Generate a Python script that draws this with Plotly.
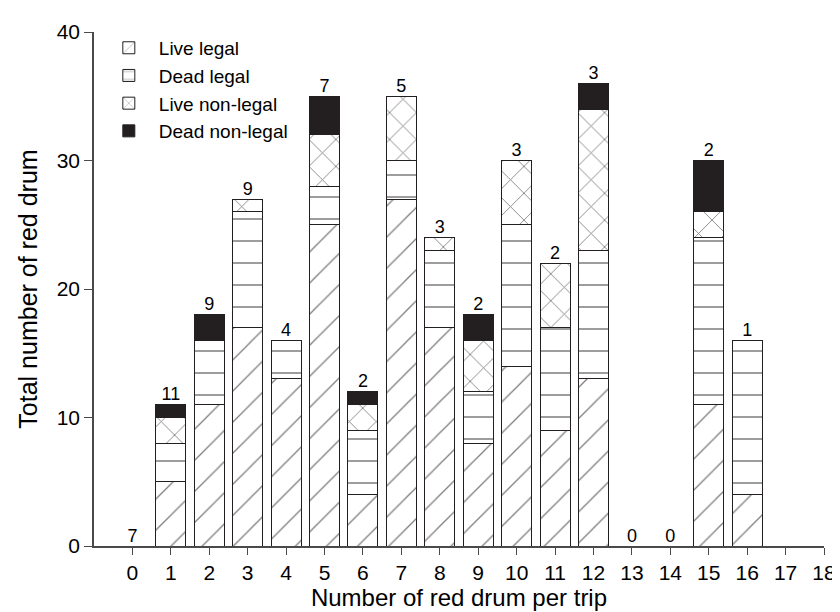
import plotly.graph_objects as go

trips_per_trip = list(range(0, 17))
live_legal     = [0, 5, 11, 17, 13, 25, 4, 27, 17, 8, 14, 9, 13, 0, 0, 11, 4]
dead_legal     = [0, 3, 5, 9, 3, 3, 5, 3, 6, 4, 11, 8, 10, 0, 0, 13, 12]
live_nonlegal  = [0, 2, 0, 1, 0, 4, 2, 5, 1, 4, 5, 5, 11, 0, 0, 2, 0]
dead_nonlegal  = [0, 1, 2, 0, 0, 3, 1, 0, 0, 2, 0, 0, 2, 0, 0, 4, 0]
n_trips        = [7, 11, 9, 9, 4, 7, 2, 5, 3, 2, 3, 2, 3, 0, 0, 2, 1]
x_ticks = list(range(0, 19))

INK = "#231f20"
AXIS = "#4a4a4a"
FONT = "Liberation Sans, Arial, Helvetica, sans-serif"

series = [
    ("Live legal", live_legal, dict(shape="/", size=22, solidity=0.06, fgcolor="#000000", bgcolor="white")),
    ("Dead legal", dead_legal, dict(shape="-", size=22, solidity=0.07, fgcolor="#000000", bgcolor="white")),
    ("Live non-legal", live_nonlegal, dict(shape="x", size=19, solidity=0.09, fgcolor="#000000", bgcolor="white")),
    ("Dead non-legal", dead_nonlegal, None),
]

fig = go.Figure()
for name, vals, pat in series:
    marker = dict(line=dict(color=INK, width=1))
    if pat is None:
        marker["color"] = INK
    else:
        marker["color"] = "white"
        marker["pattern"] = pat
    fig.add_trace(go.Bar(x=trips_per_trip, y=vals, name=name, width=0.78, marker=marker))

totals = [a + b + c + d for a, b, c, d in zip(live_legal, dead_legal, live_nonlegal, dead_nonlegal)]
fig.add_trace(go.Scatter(
    x=trips_per_trip, y=totals, mode="text", text=[str(n) for n in n_trips],
    textposition="top center", textfont=dict(size=18, color="black", family=FONT),
    showlegend=False, hoverinfo="skip", cliponaxis=False,
))

fig.update_layout(
    barmode="stack",
    width=840, height=612,
    margin=dict(l=86, r=15, t=21, b=74),
    paper_bgcolor="white", plot_bgcolor="white",
    font=dict(family=FONT, size=20, color="black"),
    legend=dict(x=0.0066, y=1.006, xanchor="left", yanchor="top",
                traceorder="normal",
                font=dict(size=19), bgcolor="rgba(0,0,0,0)",
                tracegroupgap=0, itemwidth=50),
    xaxis=dict(range=[-1, 18], tickvals=x_ticks, ticktext=[str(v) for v in x_ticks],
               showline=True, linecolor=AXIS, linewidth=1.5, ticks="outside",
               ticklen=7, tickcolor=AXIS, showgrid=False, zeroline=False,
               title=dict(text="Number of red drum per trip", standoff=4, font=dict(size=24)),
               tickfont=dict(size=21)),
    yaxis=dict(range=[0, 40], tickvals=[0, 10, 20, 30, 40],
               showline=True, linecolor=AXIS, linewidth=1.5, ticks="outside",
               ticklen=8, tickcolor=AXIS, showgrid=False, zeroline=False,
               title=dict(text="Total number of red drum", standoff=12, font=dict(size=25)),
               tickfont=dict(size=21)),
)

fig.write_html("out.html")
